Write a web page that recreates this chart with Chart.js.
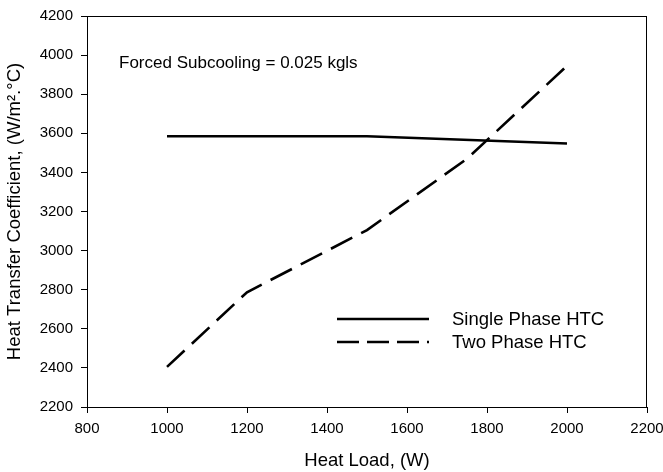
<!DOCTYPE html>
<html>
<head>
<meta charset="utf-8">
<script src="https://cdn.jsdelivr.net/npm/chart.js@4/dist/chart.umd.min.js"></script>
<style>
  html, body { margin: 0; padding: 0; background: #fff; }
  #wrap { width: 663px; height: 472px; }
</style>
</head>
<body>
<div id="wrap"><canvas id="htcChart" width="663" height="472"></canvas></div>
<script>
// --- data ---
const singleLoad = [1000, 1500, 2000];
const singleHTC = [3585, 3585, 3548];
const twoLoad = [1000, 1200, 1500, 1750, 2000];
const twoHTC = [2405, 2787, 3105, 3470, 3945];
const xTicks = [800, 1000, 1200, 1400, 1600, 1800, 2000, 2200];
const yTicks = [2200, 2400, 2600, 2800, 3000, 3200, 3400, 3600, 3800, 4000, 4200];

const seriesNames = ['Single Phase HTC', 'Two Phase HTC'];
const noteText = 'Forced Subcooling = 0.025 kgls';

const chartFont = "'Liberation Sans', Arial, sans-serif";

function toPoints(xs, ys) {
    return xs.map((x, i) => ({ x: x, y: ys[i] }));
}

// box round the plot + note + legend inside the plot
const framePlugin = {
    id: 'frame',
    afterDraw(chart) {
        const ctx = chart.ctx;
        const a = chart.chartArea;
        ctx.save();
        ctx.strokeStyle = '#000';
        ctx.lineWidth = 1;
        ctx.strokeRect(a.left + 0.5, a.top + 0.5, a.right - a.left - 1, a.bottom - a.top);

        ctx.fillStyle = '#000';
        ctx.textBaseline = 'middle';
        ctx.font = '17px ' + chartFont;
        ctx.fillText(noteText, 119, 63);

        // legend
        ctx.font = '18.5px ' + chartFont;
        chart.data.datasets.forEach((ds, i) => {
            const y = 319 + i * 23;
            ctx.beginPath();
            ctx.lineWidth = ds.borderWidth;
            ctx.setLineDash(i === 0 ? [] : [22, 8]);
            ctx.moveTo(337, y);
            ctx.lineTo(429, y);
            ctx.stroke();
            ctx.setLineDash([]);
            ctx.fillText(ds.label, 452, y + 1);
        });
        ctx.restore();
    }
};

const ctx = document.getElementById('htcChart').getContext('2d');
new Chart(ctx, {
    type: 'scatter',
    data: {
        datasets: [{
            label: seriesNames[0],
            data: toPoints(singleLoad, singleHTC),
            showLine: true,
            borderColor: '#000',
            borderWidth: 2.6,
            pointRadius: 0,
            fill: false
        }, {
            label: seriesNames[1],
            data: toPoints(twoLoad, twoHTC),
            showLine: true,
            borderColor: '#000',
            borderWidth: 2.6,
            borderDash: [24, 10],
            pointRadius: 0,
            fill: false
        }]
    },
    options: {
        responsive: false,
        animation: false,
        layout: { padding: { top: 16, right: 16, left: 0, bottom: 0 } },
        scales: {
            x: {
                type: 'linear',
                min: 800,
                max: 2200,
                afterBuildTicks: (s) => { s.ticks = xTicks.map(v => ({ value: v })); },
                afterFit: (s) => { s.height = 65; s.paddingLeft = 0; s.paddingRight = 0; },
                grid: { drawOnChartArea: false, drawTicks: true, tickLength: 6, color: '#000' },
                border: { display: true, color: '#000', width: 1 },
                ticks: {
                    color: '#000', padding: 7, maxRotation: 0,
                    font: { family: chartFont, size: 15 },
                    callback: (v) => String(v)
                },
                title: {
                    display: true,
                    text: 'Heat Load, (W)',
                    color: '#000',
                    font: { family: chartFont, size: 18.5 },
                    padding: { top: 2, bottom: 0 }
                }
            },
            y: {
                type: 'linear',
                min: 2200,
                max: 4200,
                afterBuildTicks: (s) => { s.ticks = yTicks.map(v => ({ value: v })); },
                afterFit: (s) => { s.width = 87; s.paddingTop = 0; s.paddingBottom = 0; },
                grid: { drawOnChartArea: false, drawTicks: true, tickLength: 6, color: '#000' },
                border: { display: true, color: '#000', width: 1 },
                ticks: {
                    color: '#000', padding: 8,
                    font: { family: chartFont, size: 15 },
                    callback: (v) => String(v)
                },
                title: {
                    display: true,
                    text: 'Heat Transfer Coefficient, (W/m\u00B2.\u00B0C)',
                    color: '#000',
                    font: { family: chartFont, size: 18.5 },
                    padding: { top: 4, bottom: 0 }
                }
            }
        },
        plugins: {
            legend: { display: false },
            tooltip: { enabled: false }
        }
    },
    plugins: [framePlugin]
});
</script>
</body>
</html>
